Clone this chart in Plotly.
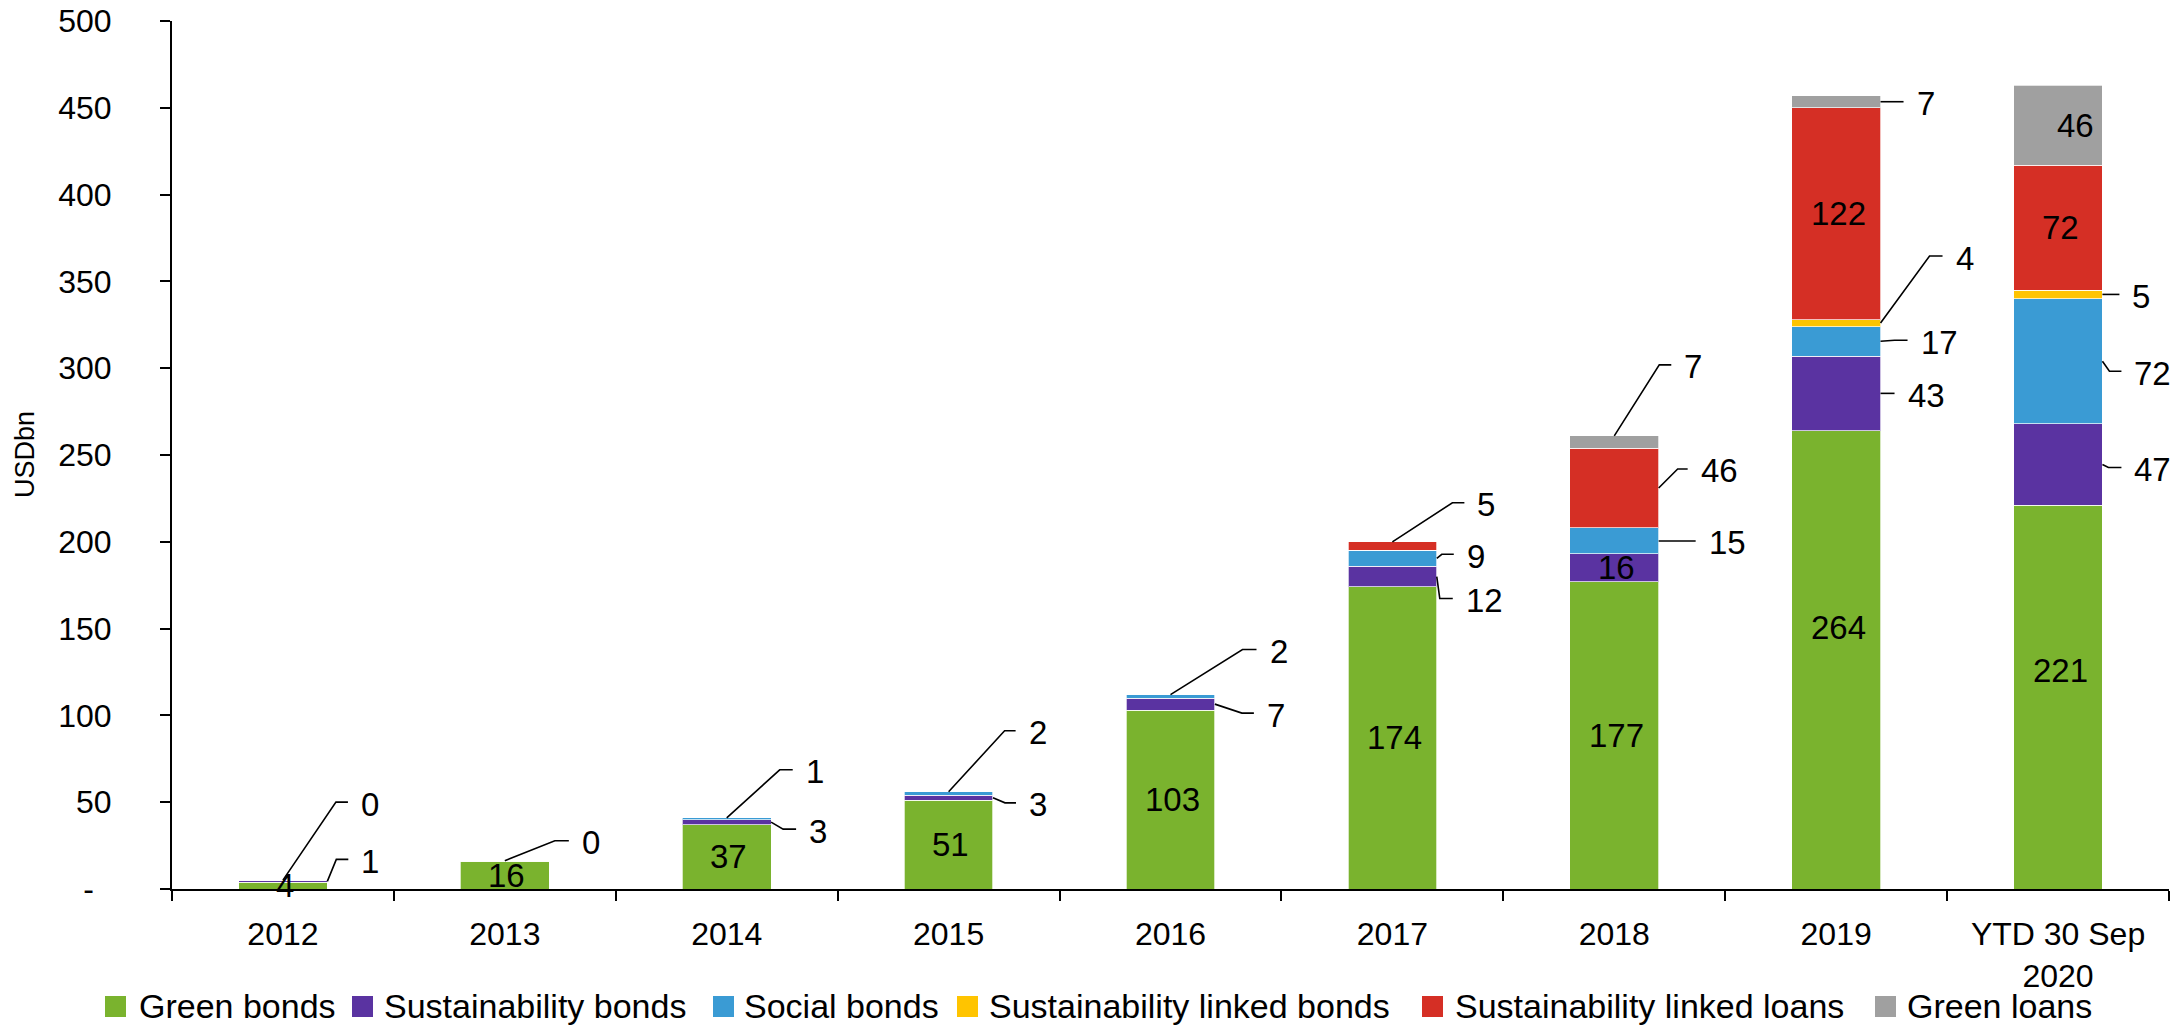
import plotly.graph_objects as go

# values in USDbn
categories = ["2012", "2013", "2014", "2015", "2016", "2017", "2018", "2019", "YTD 30 Sep<br>2020"]
green_bonds = [4, 16, 37, 51, 103, 174, 177, 264, 221]
sustainability_bonds = [0.8, 0, 3, 3, 7, 12, 16, 43, 47]
social_bonds = [0.3, 0.3, 1, 2, 2, 9, 15, 17, 72]
sl_bonds = [0, 0, 0, 0, 0, 0, 0, 4, 5]
sl_loans = [0, 0, 0, 0, 0, 5, 46, 122, 72]
green_loans = [0, 0, 0, 0, 0, 0, 7, 7, 46]

y_ticks = [0, 50, 100, 150, 200, 250, 300, 350, 400, 450, 500]
y_ticktext = ["-\u00a0\u00a0"] + [str(v) for v in y_ticks[1:]]

series = [
    ("green", "Green bonds", green_bonds, "#7AB32E"),
    ("sust", "Sustainability bonds", sustainability_bonds, "#5A33A1"),
    ("social", "Social bonds", social_bonds, "#3A9BD4"),
    ("slb", "Sustainability linked bonds", sl_bonds, "#FFC400"),
    ("sll", "Sustainability linked loans", sl_loans, "#D52F25"),
    ("gl", "Green loans", green_loans, "#A0A0A0"),
]

FONT = "Liberation Sans"
# page has an 8px body margin, so the figure is made smaller and shifted
OFF = 8
W, H = 2184 - 2 * OFF, 1035 - 2 * OFF
ML, MT = 172 - OFF, 21 - OFF
MR = W - (2169 - OFF)
MB = H - (889 - OFF)
PLOT_W = W - ML - MR
PLOT_H = H - MT - MB
PX_X = PLOT_W / len(categories)
PX_Y = PLOT_H / 500.0
HALF_BAR = 0.2

xs = list(range(len(categories)))

# stack bounds per series
bottoms, tops = {}, {}
run = [0.0] * len(categories)
for key, name, vals, col in series:
    bottoms[key] = list(run)
    run = [a + b for a, b in zip(run, vals)]
    tops[key] = list(run)
values = {key: vals for key, name, vals, col in series}

fig = go.Figure()
for key, name, vals, col in series:
    fig.add_trace(go.Bar(x=xs, y=vals, name=name, marker_color=col,
                         marker_line=dict(color="rgba(255,255,255,0.7)", width=1),
                         width=0.4, showlegend=False, hoverinfo="skip"))

annotations = []

# labels inside bars (year index, series, xshift, yshift)
inside_labels = [
    (0, "green", 0, 0), (1, "green", 0, 0), (2, "green", 0, 0), (3, "green", 0, 0),
    (4, "green", 0, 0), (5, "green", 0, 0), (6, "green", 0, 0), (7, "green", 0, 32),
    (8, "green", 0, 27), (6, "sust", 0, 0), (7, "sll", 0, 0), (8, "sll", 0, 0),
    (8, "gl", 15, 0),
]
for i, key, xs_, ys_ in inside_labels:
    v = values[key][i]
    annotations.append(dict(
        x=i, y=(bottoms[key][i] + tops[key][i]) / 2, text=f"{v:.0f}",
        showarrow=False, xanchor="center", yanchor="middle", xshift=xs_ + 2, yshift=ys_,
        font=dict(family=FONT, size=33, color="black")))

# labels outside with leader lines: (year, series, anchor, elbow dx px, elbow dy px, stub px)
leader_labels = [
    (0, "social", "top", 53, -78, 12),
    (0, "sust", "side", 9, -22, 12),
    (1, "social", "top", 50, -20, 14),
    (2, "social", "top", 53, -48, 13),
    (2, "sust", "side", 12, 7, 13),
    (3, "social", "top", 56, -61, 11),
    (3, "sust", "side", 12, 5, 11),
    (4, "social", "top", 72, -45, 14),
    (4, "sust", "side", 27, 9, 12),
    (5, "sll", "top", 60, -39, 12),
    (5, "social", "side", 5, -4, 12),
    (5, "sust", "side", 3, 22, 13),
    (6, "gl", "top", 45, -71, 12),
    (6, "sll", "side", 19, -19, 10),
    (6, "social", "side", 0, 0, 37),
    (7, "gl", "side", 9, 0, 14),
    (7, "slb", "side", 49, -67, 13),
    (7, "social", "side", 14, -1, 13),
    (7, "sust", "side", 0, 0, 14),
    (8, "slb", "side", 0, 0, 17),
    (8, "social", "side", 7, 10, 12),
    (8, "sust", "side", 6, 3, 13),
]
lx, ly = [], []
for i, key, anchor, dx, dy, stub in leader_labels:
    if anchor == "top":
        ax, ay = i, tops[key][i]
    else:
        ax, ay = i + HALF_BAR, (bottoms[key][i] + tops[key][i]) / 2
    ex, ey = ax + dx / PX_X, ay - dy / PX_Y
    sx = ex + stub / PX_X
    lx += [ax, ex, sx, None]
    ly += [ay, ey, ey, None]
    annotations.append(dict(
        x=sx, y=ey, text=f"{values[key][i]:.0f}", showarrow=False,
        xanchor="left", yanchor="middle", xshift=11, yshift=-2,
        font=dict(family=FONT, size=33, color="black")))

fig.add_trace(go.Scatter(x=lx, y=ly, mode="lines", line=dict(color="black", width=1.6),
                         showlegend=False, hoverinfo="skip", cliponaxis=False))

# legend built by hand: box left / text left, in page px
legend_box_x = [105, 352, 713, 957, 1422, 1875]
legend_text_x = [137, 382, 742, 987, 1453, 1905]
legend_y = 1006
shapes = []


def px_x(p):
    return (p - OFF - ML) / PLOT_W


def px_y(p):
    return (MT + PLOT_H - (p - OFF)) / PLOT_H


for (key, name, vals, col), bx, tx in zip(series, legend_box_x, legend_text_x):
    shapes.append(dict(type="rect", xref="paper", yref="paper",
                       x0=px_x(bx), x1=px_x(bx + 21),
                       y0=px_y(legend_y + 11), y1=px_y(legend_y - 10),
                       fillcolor=col, line=dict(width=0)))
    annotations.append(dict(
        x=px_x(tx), y=px_y(legend_y), xref="paper", yref="paper", text=name,
        showarrow=False, xanchor="left", yanchor="middle",
        font=dict(family=FONT, size=34, color="black")))

annotations.append(dict(
    x=px_x(25), y=0.5, xref="paper", yref="paper", text="USDbn", textangle=-90,
    showarrow=False, xanchor="center", yanchor="middle",
    font=dict(family=FONT, size=27, color="black")))

fig.update_layout(
    width=W, height=H,
    margin=dict(l=ML, r=MR, t=MT, b=MB),
    paper_bgcolor="white", plot_bgcolor="white",
    barmode="stack",
    showlegend=False,
    annotations=annotations,
    shapes=shapes,
    font=dict(family=FONT, size=32, color="black"),
)
fig.update_xaxes(
    range=[-0.5, len(categories) - 0.5],
    automargin=False,
    tickmode="array", tickvals=xs, ticktext=categories,
    ticks="", showgrid=False, zeroline=False,
    showline=True, linecolor="black", linewidth=2,
    tickfont=dict(family=FONT, size=32, color="black"),
    ticklabelstandoff=16,
    minor=dict(ticks="outside", ticklen=10, tickwidth=2, tickcolor="black",
               tick0=0.5, dtick=1, showgrid=False),
)
fig.update_yaxes(
    range=[0, 500],
    automargin=False,
    tickmode="array", tickvals=y_ticks, ticktext=y_ticktext,
    ticks="outside", ticklen=10, tickwidth=2, tickcolor="black",
    showgrid=False, zeroline=False,
    showline=True, linecolor="black", linewidth=2,
    tickfont=dict(family=FONT, size=32, color="black"),
    ticklabelstandoff=42,
    ticklabeloverflow="allow",
)

fig.write_html("out.html")
